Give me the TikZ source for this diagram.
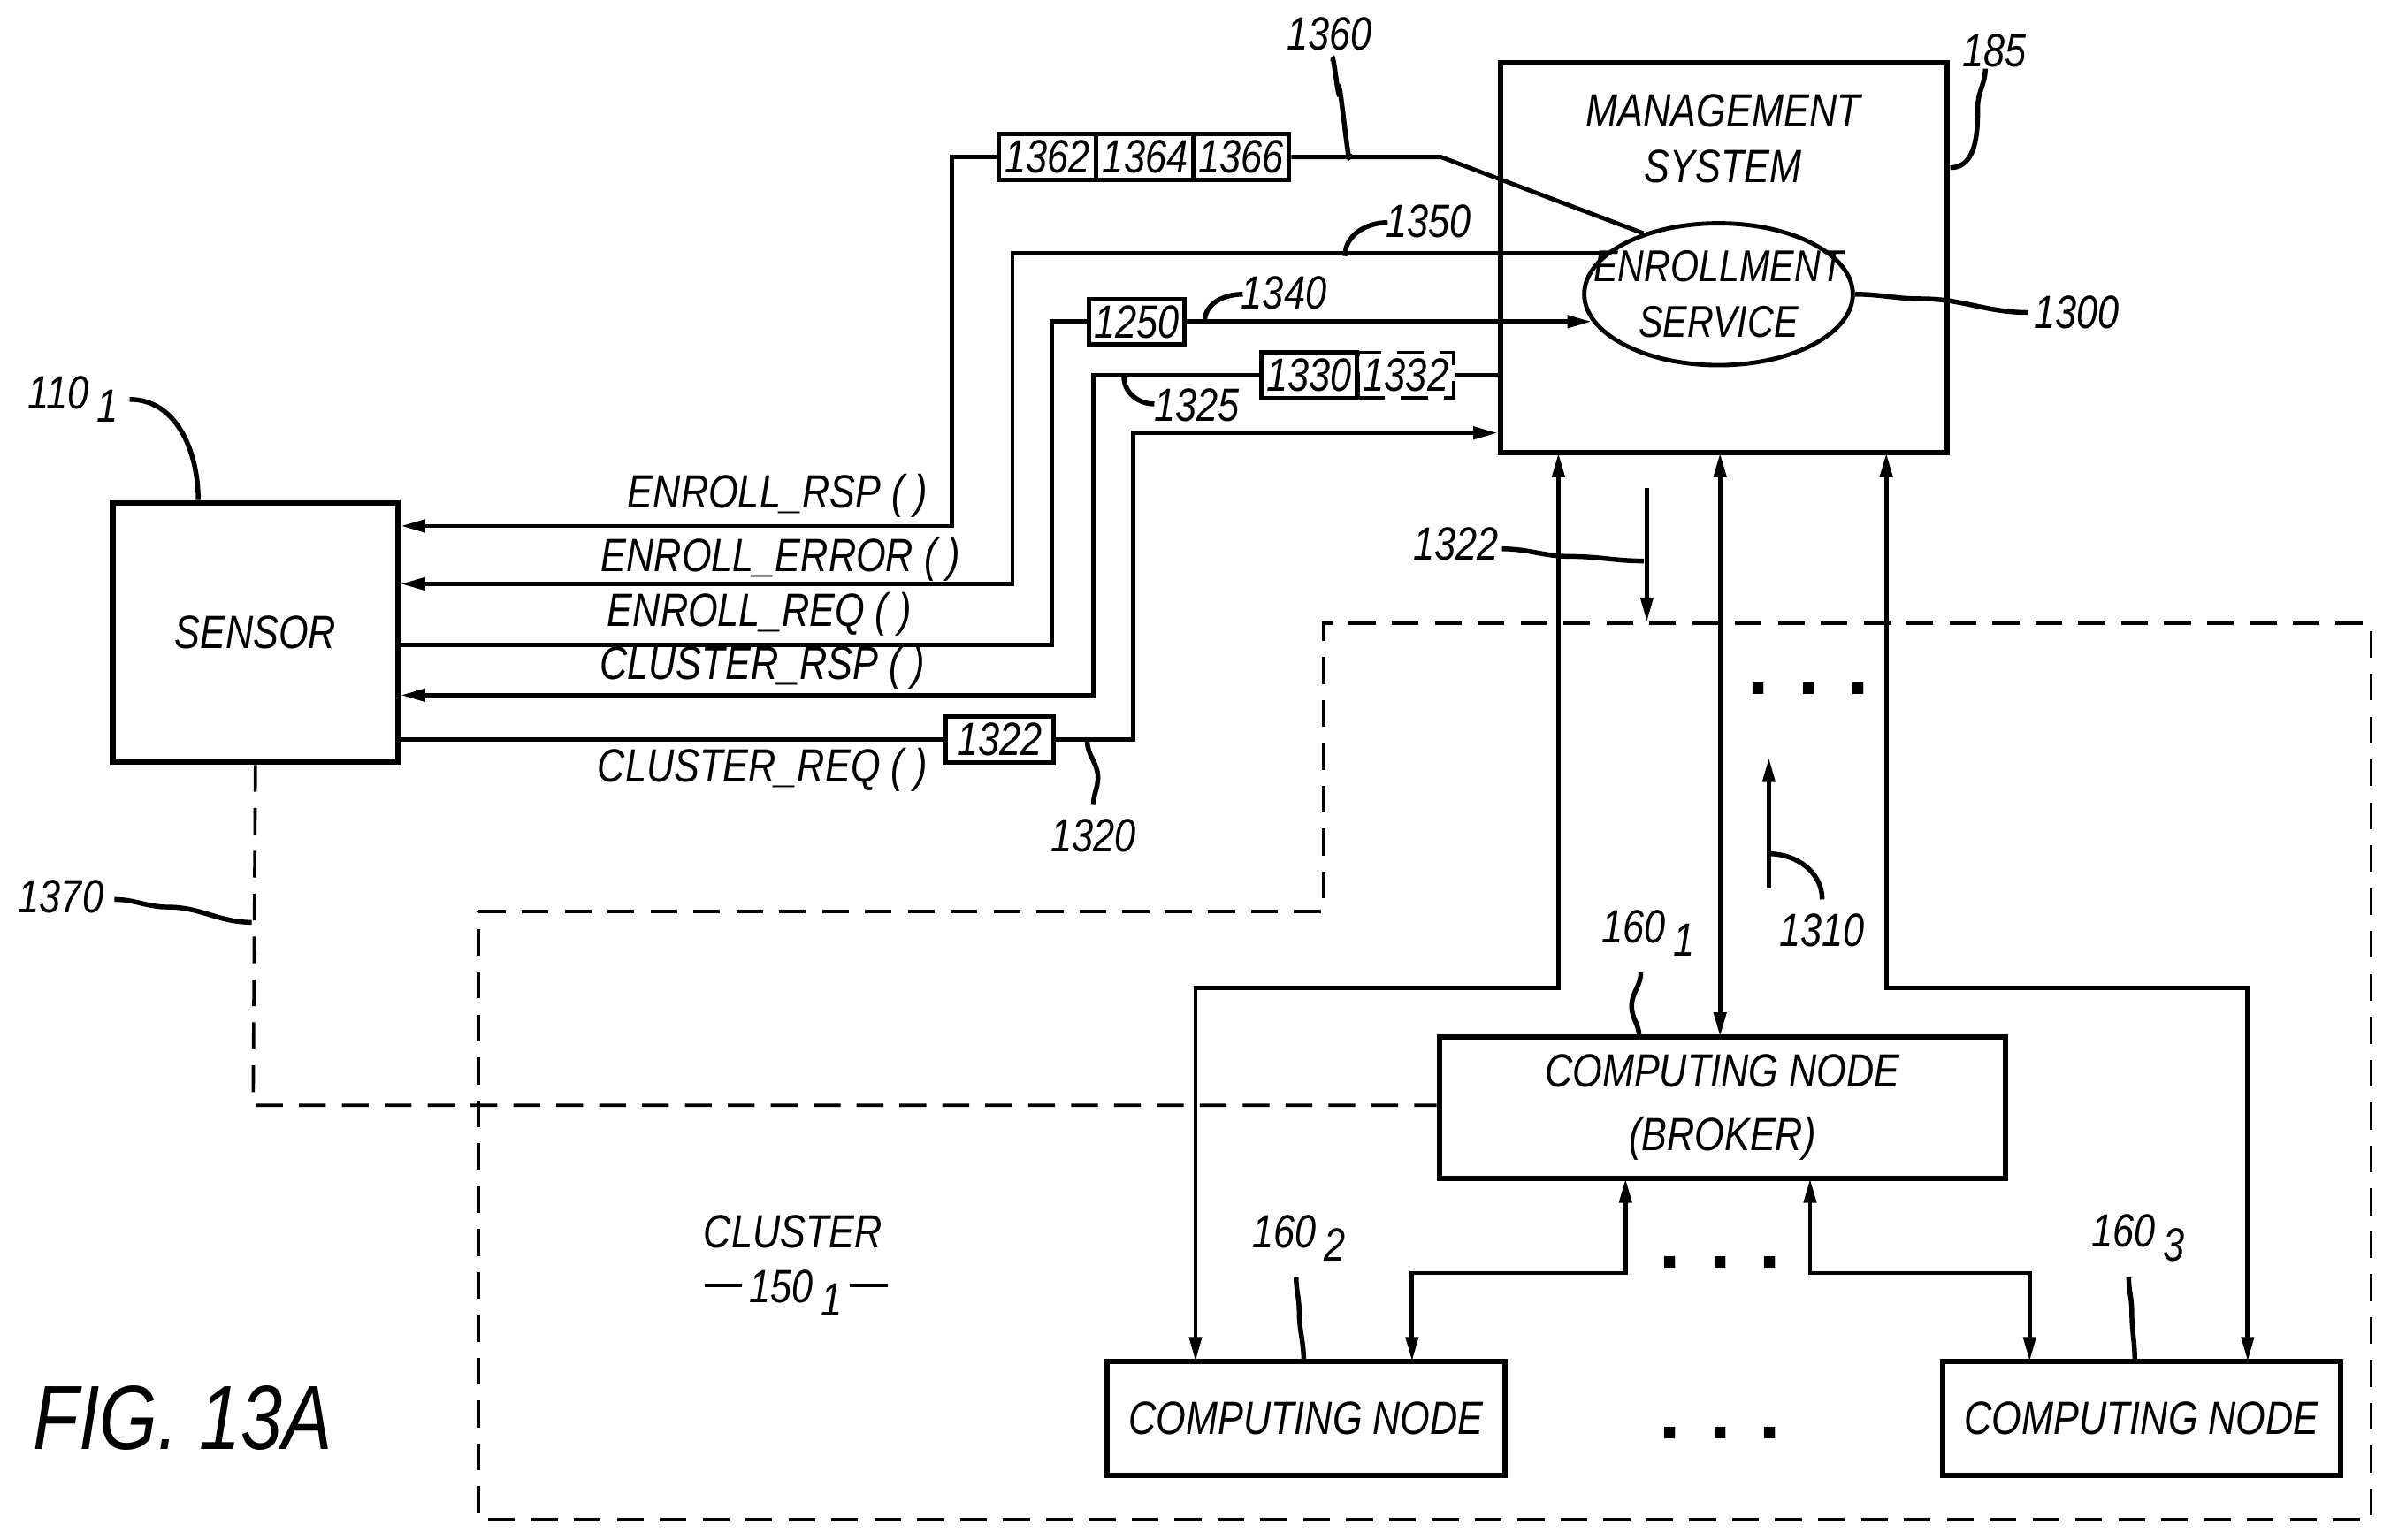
\documentclass[tikz,border=0pt]{standalone}
\usepackage{fontspec}
\setmainfont{Liberation Sans}[ItalicFeatures={FakeStretch=0.82}]
\usetikzlibrary{arrows.meta,shapes.geometric}
\newcommand{\sbs}[1]{\raisebox{-.55ex}{\,#1}}
\begin{document}
\begin{tikzpicture}[x=0.01cm,y=-0.01cm,
  every node/.style={font=\fontsize{8.7}{10.5}\selectfont\itshape},
  box/.style={draw,line width=1pt,inner sep=0},
  tag/.style={draw,line width=0.8pt,inner sep=1pt,minimum height=0.3cm},
  ln/.style={line width=0.8pt},
  ar/.style={ln,-{Triangle[length=0.16cm,width=0.08cm]}},
  dar/.style={ln,{Triangle[length=0.16cm,width=0.08cm]}-{Triangle[length=0.16cm,width=0.08cm]}},
  lead/.style={line width=0.9pt},
  dsh/.style={line width=0.6pt,dash pattern=on 5pt off 3pt}]
\useasboundingbox (0,0) rectangle (1568,1010);
% management system
\node[box,minimum width=2.93cm,minimum height=2.56cm] (ms) at (1130.5,169) {};
\node[align=center] (mst) at (1130,91) {MANAGEMENT\\SYSTEM};
\node[draw,ellipse,line width=0.8pt,minimum width=1.76cm,minimum height=0.93cm,inner sep=0] (es) at (1127,193) {};
\node[align=center,font=\fontsize{8.3}{10.5}\selectfont\itshape] (est) at (1127,193) {ENROLLMENT\\SERVICE};
\node (l185) at (1308,33) {185};
\draw[lead] (1279,110) to[out=0,in=-90] (1297,70) to[out=90,in=-90] (1302,45);
\node (l1300) at (1362,205) {1300};
\draw[lead] (es.east) to[out=0,in=180] (1260,196) to[out=0,in=180] (1330,205);
% sensor
\node[box,minimum width=1.87cm,minimum height=1.7cm] (sen) at (167.5,415) {SENSOR};
\node (l110) at (48,262) {110\sbs{1}};
\draw[lead] (130,328) to[out=90,in=0] (85,262);
% ENROLL_RSP
\node[tag,minimum width=0.64cm] (t1362) at (687,103) {1362};
\node[tag,minimum width=0.64cm] (t1364) at (751,103) {1364};
\node[tag,minimum width=0.62cm] (t1366) at (814,103) {1366};
\coordinate (a1) at (945,103);
\draw[ln] (es.141) -- (a1) -- (t1366.east);
\draw[ar] (t1362.west) -- (624,103) -- (624,345) -- (sen.east |- 0,345);
\node (l1360) at (872,22) {1360};
\draw[lead] (885,101) to[out=-90,in=90] (878,60) to[out=-90,in=90] (874,40);
\node (trsp) at (510,325) {ENROLL\_RSP ( )};
% ENROLL_ERROR
\coordinate (e1) at (664,0);
\draw[ar] (es.160) -- (es.160 -| e1) -- (664,383) -- (sen.east |- 0,383);
\node (terr) at (512,367) {ENROLL\_ERROR ( )};
\node (l1350) at (937,145) {1350};
\draw[lead] (882,168) to[out=90,in=180] (910,146);
% ENROLL_REQ
\node[tag,minimum width=0.59cm] (t1250) at (745.5,211) {1250};
\draw[ln] (sen.east |- 0,423) -- (690,423) -- (690,211) -- (t1250.west);
\draw[ar] (t1250.east) -- (t1250.east -| es.192);
\node (treq) at (498,403) {ENROLL\_REQ ( )};
\node (l1340) at (842,192) {1340};
\draw[lead] (790,211) to[out=90,in=180] (815,193);
% CLUSTER_RSP
\node[tag,minimum width=0.63cm] (t1330) at (858.5,246) {1330};
\node[tag,dsh,minimum width=0.62cm] (t1332) at (922,246) {1332};
\draw[ln] (ms.west |- 0,246) -- (t1332.east);
\draw[ar] (t1330.west) -- (717,246) -- (717,456) -- (sen.east |- 0,456);
\node (tcrsp) at (500,438) {CLUSTER\_RSP ( )};
\node (l1325) at (785,266) {1325};
\draw[lead] (737,247) to[out=-90,in=180] (757,265);
% CLUSTER_REQ
\node[tag,minimum width=0.71cm] (t1322) at (655.5,485) {1322};
\draw[ln] (sen.east |- 0,485) -- (t1322.west);
\draw[ar] (t1322.east) -- (743,485) -- (743,284) -- (ms.west |- 0,284);
\node (tcreq) at (500,505) {CLUSTER\_REQ ( )};
\node (l1320) at (717,548) {1320};
\draw[lead] (713,486) to[out=-90,in=90] (720,510) to[out=-90,in=90] (717,528);
% cluster region
\draw[dsh] (314,598) -- (868,598) -- (868,409) -- (1555,409) -- (1555,997) -- (314,997) -- cycle;
\node (tcl) at (520,808) {CLUSTER};
\node (t150) at (522,848) {\rule[0.6ex]{0.8em}{0.7pt}\,150\sbs{1}\,\rule[0.6ex]{0.8em}{0.7pt}};
% broker
\node[box,minimum width=3.71cm,minimum height=0.93cm,align=center] (br) at (1129.5,726.5) {COMPUTING NODE\\[0.05cm](BROKER)};
\node (l1601) at (1081,612) {160\sbs{1}};
\draw[lead] (1075,680) to[out=90,in=-90] (1070,660) to[out=90,in=-90] (1076,638);
\draw[dsh] (sen.south) -- (166,725) -- (br.west |- 0,725);
\node (l1370) at (40,588) {1370};
\draw[lead] (165,605) to[out=180,in=0] (110,595) to[out=180,in=0] (75,590);
% computing nodes
\node[box,minimum width=2.61cm,minimum height=0.75cm] (cn2) at (856.5,930.5) {COMPUTING NODE};
\node[box,minimum width=2.61cm,minimum height=0.75cm] (cn3) at (1404.5,930.5) {COMPUTING NODE};
\node (l1602) at (852,812) {160\sbs{2}};
\draw[lead] (855,893) to[out=90,in=-90] (852,860) to[out=90,in=-90] (850,838);
\node (l1603) at (1402,812) {160\sbs{3}};
\draw[lead] (1400,893) to[out=90,in=-90] (1398,860) to[out=90,in=-90] (1396,838);
% links to management
\draw[dar] (784,893) -- (784,648) -- (1022,648) -- (1022,297);
\draw[dar] (1474,893) -- (1474,648) -- (1237,648) -- (1237,297);
\draw[dar] (1128,297) -- (1128,680);
\draw[dar] (926,893) -- (926,835) -- (1066,835) -- (1066,773);
\draw[dar] (1331,893) -- (1331,835) -- (1187,835) -- (1187,773);
% 1322 and 1310 arrows
\draw[ar] (1080,320) -- (1080,408);
\node (l1322b) at (955,357) {1322};
\draw[lead] (985,360) to[out=0,in=180] (1030,365) to[out=0,in=180] (1078,368);
\draw[ar] (1160,583) -- (1160,497);
\node (l1310) at (1195,610) {1310};
\draw[lead] (1160,560) to[out=0,in=90] (1195,590);
\node[font=\Large\bfseries] (d1) at (1186,452) {. . .};
\node[font=\Large\bfseries] (d2) at (1128,828) {. . .};
\node[font=\Large\bfseries] (d3) at (1128,940) {. . .};
\node[font=\fontsize{17}{20}\selectfont\itshape] (fig) at (120,930) {FIG. 13A};
\end{tikzpicture}
\end{document}
